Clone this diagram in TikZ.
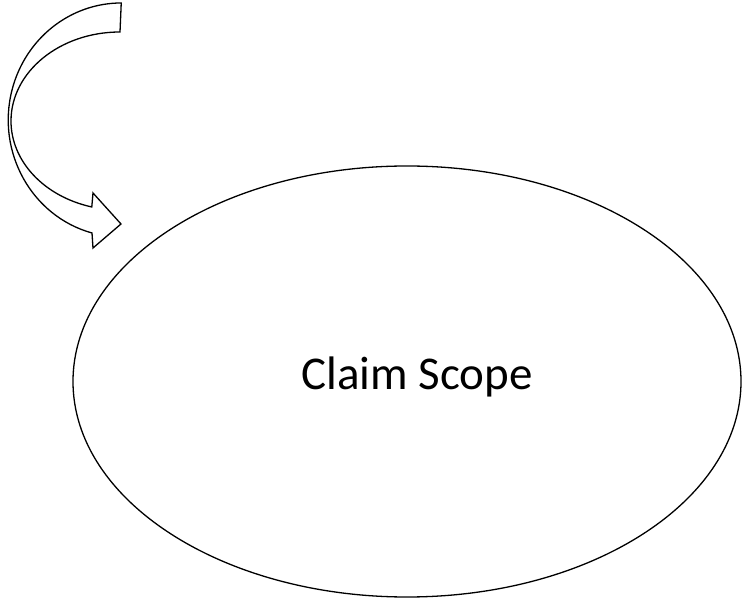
\documentclass[tikz,border=0pt]{standalone}
\usepackage{fontspec}
\setmainfont{Carlito}
\usepackage{tikz}
\usetikzlibrary{shapes.geometric}

\begin{document}
\begin{tikzpicture}[x=1pt,y=1pt]
    \tikzstyle{every node}+=[inner sep=0pt]
    \tikzstyle{scopeoval}=[draw=black, line width=1.3pt, ellipse, minimum width=668pt, minimum height=431pt]
    \tikzstyle{bentarrow}=[draw=black, line width=1.3pt, line join=miter, fill=white]
    \useasboundingbox (0,0) rectangle (742,600);
    % the oval
    \node [scopeoval] (scope) at (407,218.5) {};
    \node [anchor=base, font=\fontsize{47}{50}\selectfont] (scopelabel) at (417,210) {Claim Scope};
    % the curved arrow pointing at it
    \coordinate (arrowtip) at (121,376);
    \draw [bentarrow] (120,568) arc [start angle=90, end angle=255, x radius=109, y radius=89]
        -- (93,407) -- (arrowtip) -- (93,352) -- (92,367)
        arc [start angle=255, end angle=90, x radius=113, y radius=117] -- cycle;
\end{tikzpicture}
\end{document}
